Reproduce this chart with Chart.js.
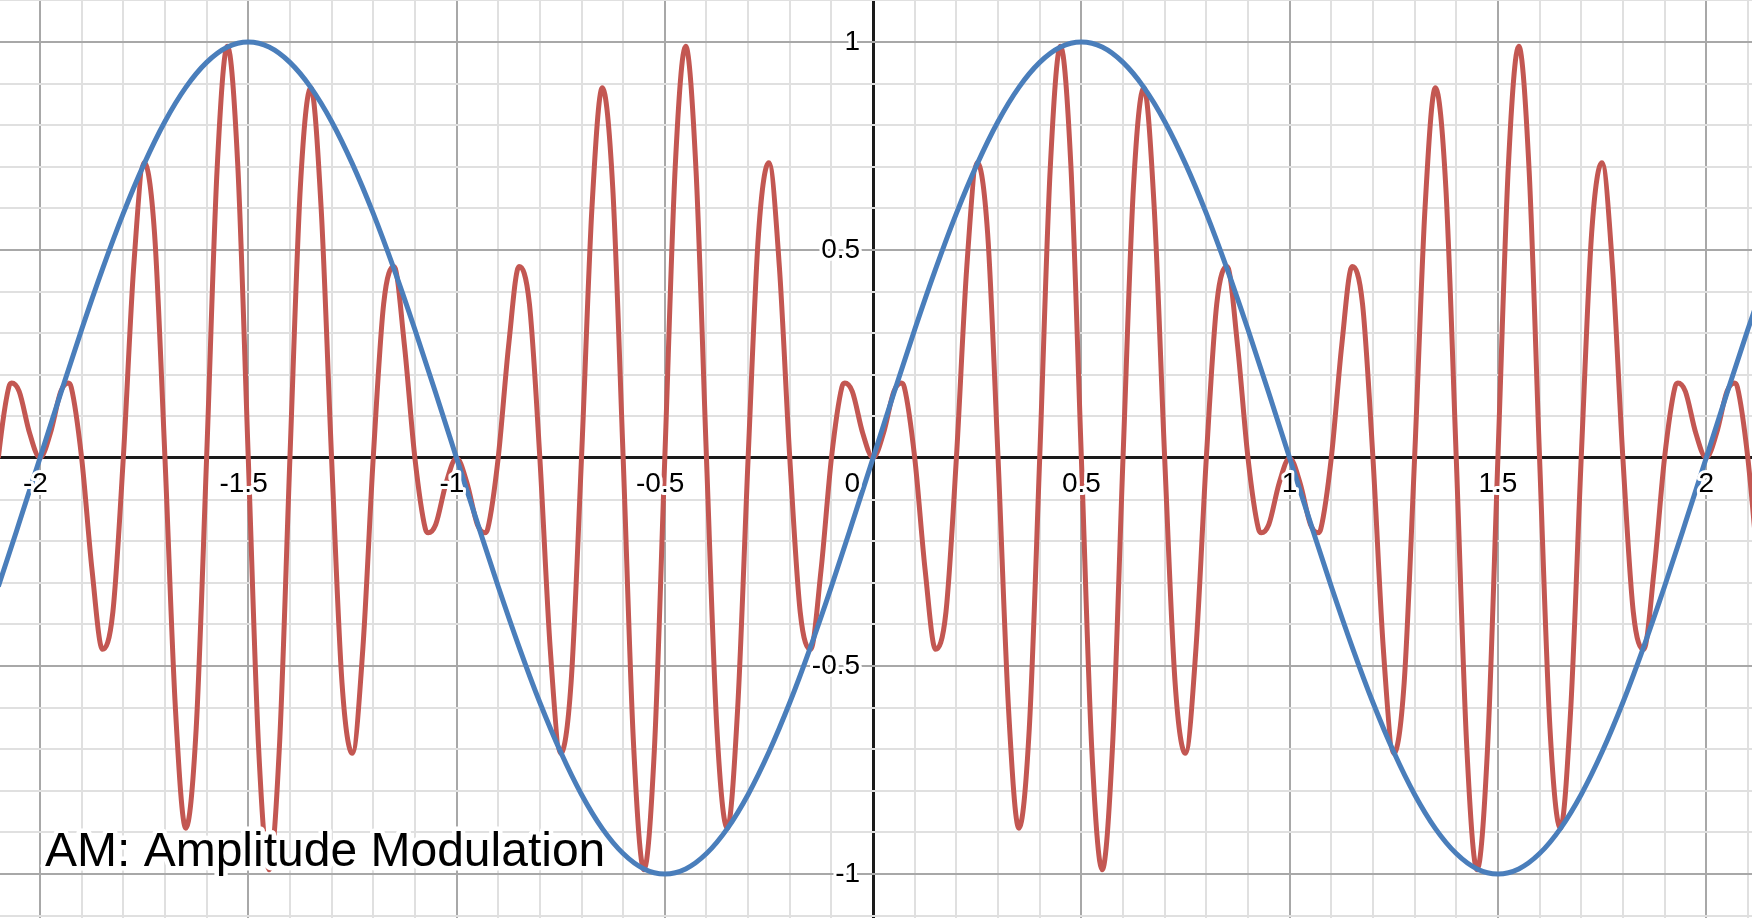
<!DOCTYPE html>
<html><head><meta charset="utf-8">
<script src="https://cdn.jsdelivr.net/npm/chart.js@4/dist/chart.umd.min.js"></script>
<style>html,body{margin:0;padding:0;background:#fff;overflow:hidden}canvas{display:block}</style>
</head><body>
<canvas id="c" width="1752" height="918"></canvas>
<script>
const TITLE = 'AM: Amplitude Modulation';
const X_RANGE = [-2.096, 2.110];
const Y_RANGE = [-1.106, 1.101];
const GRID_STEP = 0.1;
const X_TICK_LABELS = [-2, -1.5, -1, -0.5, 0, 0.5, 1, 1.5, 2];
const Y_TICK_LABELS = [-1, -0.5, 0.5, 1];

// Blue: modulating signal
const BLUE_X = [-2.15,-2.1,-2.05,-2,-1.95,-1.9,-1.85,-1.8,-1.75,-1.7,-1.65,-1.6,-1.55,-1.5,-1.45,-1.4,-1.35,-1.3,-1.25,-1.2,-1.15,-1.1,-1.05,-1,
  -0.95,-0.9,-0.85,-0.8,-0.75,-0.7,-0.65,-0.6,-0.55,-0.5,-0.45,-0.4,-0.35,-0.3,-0.25,-0.2,-0.15,-0.1,-0.05,0,
  0.05,0.1,0.15,0.2,0.25,0.3,0.35,0.4,0.45,0.5,0.55,0.6,0.65,0.7,0.75,0.8,0.85,0.9,0.95,1,
  1.05,1.1,1.15,1.2,1.25,1.3,1.35,1.4,1.45,1.5,1.55,1.6,1.65,1.7,1.75,1.8,1.85,1.9,1.95,2,2.05,2.1,2.15];
const BLUE_Y = [-0.454,-0.309,-0.156,0,0.156,0.309,0.454,0.588,0.707,0.809,0.891,0.951,0.988,1,0.988,0.951,0.891,0.809,0.707,0.588,0.454,0.309,0.156,0,
  -0.156,-0.309,-0.454,-0.588,-0.707,-0.809,-0.891,-0.951,-0.988,-1,-0.988,-0.951,-0.891,-0.809,-0.707,-0.588,-0.454,-0.309,-0.156,0,
  0.156,0.309,0.454,0.588,0.707,0.809,0.891,0.951,0.988,1,0.988,0.951,0.891,0.809,0.707,0.588,0.454,0.309,0.156,0,
  -0.156,-0.309,-0.454,-0.588,-0.707,-0.809,-0.891,-0.951,-0.988,-1,-0.988,-0.951,-0.891,-0.809,-0.707,-0.588,-0.454,-0.309,-0.156,0,0.156,0.309,0.454];

// Red: modulated carrier
const RED_X = [-2.125,-2.1,-2.075,-2.068,-2.05,-2.025,-2,-1.975,-1.95,-1.932,-1.925,-1.9,-1.875,-1.85,-1.825,-1.8,-1.775,-1.75,-1.725,-1.7,
  -1.675,-1.65,-1.625,-1.6,-1.575,-1.55,-1.525,-1.5,-1.475,-1.45,-1.425,-1.4,-1.375,-1.35,-1.325,-1.3,-1.275,-1.25,-1.225,-1.2,
  -1.175,-1.15,-1.125,-1.1,-1.075,-1.068,-1.05,-1.025,-1,-0.975,-0.95,-0.932,-0.925,-0.9,-0.875,-0.85,-0.825,-0.8,-0.775,-0.75,
  -0.725,-0.7,-0.675,-0.65,-0.625,-0.6,-0.575,-0.55,-0.525,-0.5,-0.475,-0.45,-0.425,-0.4,-0.375,-0.35,-0.325,-0.3,-0.275,-0.25,
  -0.225,-0.2,-0.175,-0.15,-0.125,-0.1,-0.075,-0.068,-0.05,-0.025,0,0.025,0.05,0.068,0.075,0.1,0.125,0.15,0.175,0.2,
  0.225,0.25,0.275,0.3,0.325,0.35,0.375,0.4,0.425,0.45,0.475,0.5,0.525,0.55,0.575,0.6,0.625,0.65,0.675,0.7,
  0.725,0.75,0.775,0.8,0.825,0.85,0.875,0.9,0.925,0.932,0.95,0.975,1,1.025,1.05,1.068,1.075,1.1,1.125,1.15,
  1.175,1.2,1.225,1.25,1.275,1.3,1.325,1.35,1.375,1.4,1.425,1.45,1.475,1.5,1.525,1.55,1.575,1.6,1.625,1.65,
  1.675,1.7,1.725,1.75,1.775,1.8,1.825,1.85,1.875,1.9,1.925,1.932,1.95,1.975,2,2.025,2.05,2.068,2.075,2.1,2.125];
const RED_Y = [-0.27,0,0.17,0.18,0.16,0.06,0,0.06,0.16,0.18,0.17,0,-0.27,-0.46,-0.37,0,0.46,0.71,0.54,0,
  -0.6,-0.89,-0.65,0,0.69,0.99,0.7,0,-0.7,-0.99,-0.69,0,0.65,0.89,0.6,0,-0.54,-0.71,-0.46,0,
  0.37,0.46,0.27,0,-0.17,-0.18,-0.16,-0.06,0,-0.06,-0.16,-0.18,-0.17,0,0.27,0.46,0.37,0,-0.46,-0.71,
  -0.54,0,0.6,0.89,0.65,0,-0.69,-0.99,-0.7,0,0.7,0.99,0.69,0,-0.65,-0.89,-0.6,0,0.54,0.71,
  0.46,0,-0.37,-0.46,-0.27,0,0.17,0.18,0.16,0.06,0,0.06,0.16,0.18,0.17,0,-0.27,-0.46,-0.37,0,
  0.46,0.71,0.54,0,-0.6,-0.89,-0.65,0,0.69,0.99,0.7,0,-0.7,-0.99,-0.69,0,0.65,0.89,0.6,0,
  -0.54,-0.71,-0.46,0,0.37,0.46,0.27,0,-0.17,-0.18,-0.16,-0.06,0,-0.06,-0.16,-0.18,-0.17,0,0.27,0.46,
  0.37,0,-0.46,-0.71,-0.54,0,0.6,0.89,0.65,0,-0.69,-0.99,-0.7,0,0.7,0.99,0.69,0,-0.65,-0.89,
  -0.6,0,0.54,0.71,0.46,0,-0.37,-0.46,-0.27,0,0.17,0.18,0.16,0.06,0,0.06,0.16,0.18,0.17,0,-0.27];

const BLUE = '#4A7EBB';
const RED = '#C35752';

function toPoints(xs, ys) { return xs.map((x, i) => ({ x: x, y: ys[i] })); }
function fmt(v) { return String(v); }

function gridTicks(scale) {
  const ticks = [];
  for (let i = Math.ceil(scale.min / GRID_STEP); i <= Math.floor(scale.max / GRID_STEP); i++) {
    ticks.push({ value: Math.round(i * GRID_STEP * 100) / 100 });
  }
  scale.ticks = ticks;
}
function isMajor(v) { return Math.abs(v * 2 - Math.round(v * 2)) < 1e-6; }
const gridColor = c => {
  const v = c.tick ? c.tick.value : 1;
  if (Math.abs(v) < 1e-9) return '#1a1a1a';
  return isMajor(v) ? '#a8a8a8' : '#e0e0e0';
};
const gridWidth = c => {
  const v = c.tick ? c.tick.value : 1;
  if (Math.abs(v) < 1e-9) return 3;
  return 2;
};

const labelPlugin = {
  id: 'desmosLabels',
  afterDatasetsDraw(chart) {
    const ctx = chart.ctx, xs = chart.scales.x, ys = chart.scales.y;
    const x0 = xs.getPixelForValue(0), y0 = ys.getPixelForValue(0);
    ctx.save();
    ctx.lineJoin = 'round';
    ctx.strokeStyle = '#ffffff';
    ctx.fillStyle = '#000000';
    ctx.textBaseline = 'alphabetic';
    const draw = (t, x, y, align) => { ctx.textAlign = align; ctx.strokeText(t, x, y); ctx.fillText(t, x, y); };
    ctx.font = '28px "Liberation Sans", Arial, sans-serif';
    ctx.lineWidth = 6;
    X_TICK_LABELS.forEach(v => {
      const s = fmt(v);
      if (v === 0) { draw(s, x0 - 13, y0 + 34, 'right'); return; }
      const px = xs.getPixelForValue(v);
      const w = ctx.measureText(fmt(Math.abs(v))).width;
      draw(s, px + w / 2, y0 + 34, 'right');
    });
    Y_TICK_LABELS.forEach(v => {
      draw(fmt(v), x0 - 13, ys.getPixelForValue(v) + 8, 'right');
    });
    ctx.font = '48px "Liberation Sans", Arial, sans-serif';
    ctx.lineWidth = 9;
    draw(TITLE, 45, 866, 'left');
    ctx.restore();
  }
};

new Chart(document.getElementById('c'), {
  type: 'line',
  data: {
    datasets: [
      { data: toPoints(BLUE_X, BLUE_Y), borderColor: BLUE, borderWidth: 5, pointRadius: 0,
        cubicInterpolationMode: 'monotone', fill: false },
      { data: toPoints(RED_X, RED_Y), borderColor: RED, borderWidth: 5, pointRadius: 0,
        cubicInterpolationMode: 'monotone', fill: false }
    ]
  },
  options: {
    responsive: false,
    animation: false,
    devicePixelRatio: 1,
    layout: { padding: 0 },
    plugins: { legend: { display: false }, tooltip: { enabled: false }, title: { display: false } },
    scales: {
      x: { type: 'linear', min: X_RANGE[0], max: X_RANGE[1],
           afterBuildTicks: gridTicks,
           ticks: { display: false },
           border: { display: false },
           grid: { drawTicks: false, color: gridColor, lineWidth: gridWidth } },
      y: { type: 'linear', min: Y_RANGE[0], max: Y_RANGE[1],
           afterBuildTicks: gridTicks,
           ticks: { display: false },
           border: { display: false },
           grid: { drawTicks: false, color: gridColor, lineWidth: gridWidth } }
    }
  },
  plugins: [labelPlugin]
});
</script>
</body></html>
